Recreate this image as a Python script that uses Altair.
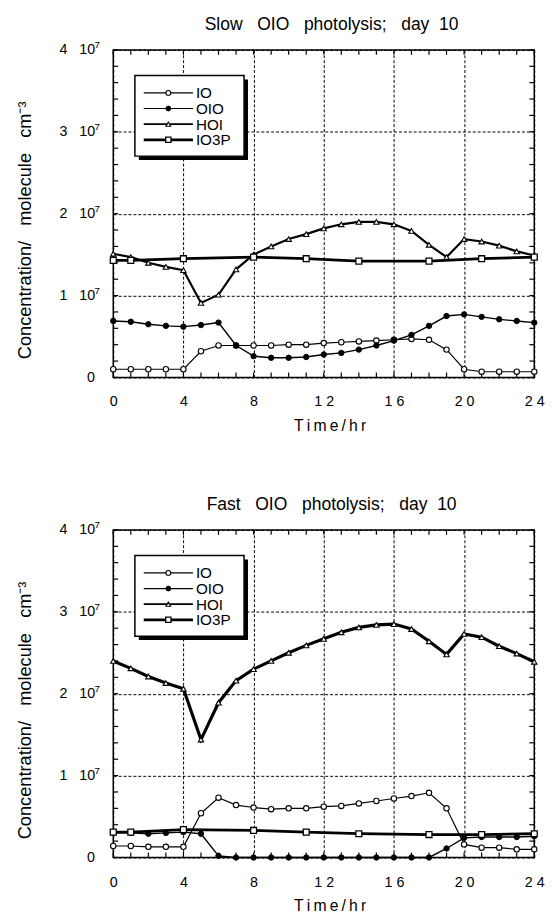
import altair as alt
import pandas as pd

# ---------------- data (concentrations in units of 1e7 molecule cm^-3) -------------
HOURS = list(range(25))
IO3P_HOURS = [0, 1, 4, 8, 11, 14, 18, 21, 24]

SLOW_IO = [0.10, 0.10, 0.10, 0.10, 0.10, 0.32, 0.39, 0.39, 0.39, 0.39, 0.40, 0.40, 0.42,
           0.43, 0.44, 0.45, 0.46, 0.47, 0.46, 0.34, 0.10, 0.07, 0.07, 0.07, 0.07]
SLOW_OIO = [0.69, 0.68, 0.65, 0.63, 0.62, 0.64, 0.67, 0.39, 0.26, 0.24, 0.24, 0.25, 0.28,
            0.30, 0.34, 0.39, 0.45, 0.52, 0.63, 0.75, 0.77, 0.74, 0.71, 0.69, 0.67]
SLOW_HOI = [1.51, 1.47, 1.40, 1.35, 1.31, 0.91, 1.01, 1.32, 1.50, 1.60, 1.69, 1.75, 1.82,
            1.87, 1.90, 1.90, 1.87, 1.79, 1.62, 1.47, 1.69, 1.66, 1.61, 1.54, 1.49]
SLOW_IO3P = [1.43, 1.43, 1.45, 1.47, 1.45, 1.42, 1.42, 1.45, 1.47]

FAST_IO = [0.14, 0.14, 0.13, 0.13, 0.13, 0.54, 0.73, 0.64, 0.61, 0.59, 0.60, 0.60, 0.62,
           0.63, 0.66, 0.69, 0.72, 0.75, 0.79, 0.60, 0.16, 0.12, 0.12, 0.10, 0.10]
FAST_OIO = [0.30, 0.30, 0.29, 0.30, 0.31, 0.29, 0.02, 0.00, 0.00, 0.00, 0.00, 0.00, 0.00,
            0.00, 0.00, 0.00, 0.00, 0.00, 0.00, 0.11, 0.24, 0.25, 0.25, 0.25, 0.26]
FAST_HOI = [2.40, 2.31, 2.21, 2.13, 2.06, 1.44, 1.89, 2.16, 2.30, 2.40, 2.50, 2.59, 2.67,
            2.75, 2.81, 2.84, 2.85, 2.79, 2.64, 2.48, 2.73, 2.69, 2.58, 2.49, 2.39]
FAST_IO3P = [0.31, 0.31, 0.34, 0.33, 0.31, 0.29, 0.28, 0.28, 0.29]

SERIES = ["IO", "OIO", "HOI", "IO3P"]
X_LABEL_VALUES = [0, 4, 8, 12, 16, 20, 24]
Y_LABEL_VALUES = [0, 1, 2, 3, 4]
Y_EXP_VALUES = [1, 2, 3, 4]
MINOR_X = [0, 1, 2, 3, 4, 5, 6, 7, 8, 9, 10, 11, 12, 13, 14, 15, 16, 17, 18, 19, 20,
           21, 22, 23, 24]
MINOR_Y = [0.0, 0.2, 0.4, 0.6, 0.8, 1.0, 1.2, 1.4, 1.6, 1.8, 2.0, 2.2, 2.4, 2.6, 2.8,
           3.0, 3.2, 3.4, 3.6, 3.8, 4.0]

# ---------------- styling ----------------
FONT = "Liberation Sans"
W, H = 428, 333
NB = "\u00a0"
TH = "\u2009"

STYLE = {
    "IO":   dict(shape="circle", fill="white", size=30, pstroke=1.1),
    "OIO":  dict(shape="circle", fill="black", size=30, pstroke=1.0),
    "HOI":  dict(shape="triangle-up", fill="white", size=30, pstroke=1.1),
    "IO3P": dict(shape="square", fill="white", size=36, pstroke=1.3),
}


def xenc(field):
    return alt.X(
        field, type="quantitative",
        scale=alt.Scale(domain=[0, 24], nice=False, zero=False),
        axis=alt.Axis(
            values=X_LABEL_VALUES, grid=True, gridColor="black", gridDash=[3, 2],
            gridWidth=1, gridOpacity=1, ticks=False, domain=False,
            labelFont=FONT, labelFontSize=14.5, labelColor="black", labelPadding=18,
            labelFlush=False,
            labelExpr="length(datum.label) > 1 ? substring(datum.label, 0, 1) + '" + NB +
                      "' + substring(datum.label, 1) : datum.label",
            title=TH.join(list("Time/hr")), titleFont=FONT, titleFontSize=16,
            titleFontWeight="normal", titleColor="black", titlePadding=9, titleX=220,
        ),
    )


def yenc(field):
    return alt.Y(
        field, type="quantitative",
        scale=alt.Scale(domain=[0, 4], nice=False, zero=True),
        axis=alt.Axis(
            values=Y_LABEL_VALUES, grid=True, gridColor="black", gridDash=[3, 2],
            gridWidth=1, gridOpacity=1, ticks=False, domain=False,
            labelFont=FONT, labelFontSize=14.5, labelColor="black", labelPadding=19,
            labelFlush=False,
            labelExpr="datum.value == 0 ? '0' : datum.value + '" + NB * 3 + "10'",
            title="Concentration/" + NB * 3 + "molecule" + NB * 3 + "cm\u207b\u00b3",
            titleFont=FONT, titleFontSize=18.5, titleFontWeight="normal", titleColor="black",
            titleAngle=270, titleX=-90, titleY=183, titleAlign="center",
            titleBaseline="middle",
        ),
    )


def panel(title, io, oio, hoi, io3p, hoi_width, io3p_width):
    layers = []
    # inward minor ticks
    tx = pd.DataFrame({"h": MINOR_X})
    ty = pd.DataFrame({"c": MINOR_Y})
    layers.append(alt.Chart(tx).mark_rule(color="black", strokeWidth=1.2).encode(
        x=xenc("h"), y=alt.value(0), y2=alt.value(5)))
    layers.append(alt.Chart(tx).mark_rule(color="black", strokeWidth=1.2).encode(
        x=xenc("h"), y=alt.value(H - 5), y2=alt.value(H)))
    layers.append(alt.Chart(ty).mark_rule(color="black", strokeWidth=1.2).encode(
        y=yenc("c"), x=alt.value(0), x2=alt.value(5)))
    layers.append(alt.Chart(ty).mark_rule(color="black", strokeWidth=1.2).encode(
        y=yenc("c"), x=alt.value(W - 5), x2=alt.value(W)))
    # exponent "7" of the "n 10^7" tick labels
    te = pd.DataFrame({"e": Y_EXP_VALUES})
    layers.append(alt.Chart(te).mark_text(align="left", baseline="middle", dy=-5,
                                          font=FONT, fontSize=10, color="black").encode(
        y=yenc("e"), x=alt.value(-19), text=alt.value("7")))

    widths = {"IO": 1.2, "OIO": 1.4, "HOI": hoi_width, "IO3P": io3p_width}
    values = {"IO": (HOURS, io), "OIO": (HOURS, oio), "HOI": (HOURS, hoi),
              "IO3P": (IO3P_HOURS, io3p)}
    lines, points = [], []
    for name in SERIES:
        xs, ys = values[name]
        df = pd.DataFrame({"hour": xs, "conc": ys})
        base = alt.Chart(df).encode(x=xenc("hour"), y=yenc("conc"))
        lines.append(base.mark_line(color="black", strokeWidth=widths[name]))
        st = STYLE[name]
        points.append(base.mark_point(shape=st["shape"], filled=True, fill=st["fill"],
                                      stroke="black", strokeWidth=st["pstroke"],
                                      size=st["size"], opacity=1))
    layers += lines + points

    # legend box with drop shadow
    one = pd.DataFrame({"k": [0]})
    layers.append(alt.Chart(one).mark_rect(fill="black").encode(
        x=alt.value(26), x2=alt.value(137), y=alt.value(30), y2=alt.value(112)))
    layers.append(alt.Chart(one).mark_rect(fill="white", stroke="black", strokeWidth=1.5).encode(
        x=alt.value(22), x2=alt.value(133), y=alt.value(26), y2=alt.value(108)))
    leg_w = {"IO": 1.2, "OIO": 1.2, "HOI": 1.8, "IO3P": 2.8}
    for i, name in enumerate(SERIES):
        ly = 43.7 + 15.9 * i
        d = pd.DataFrame({"name": [name]})
        st = STYLE[name]
        layers.append(alt.Chart(d).mark_rule(color="black", strokeWidth=leg_w[name]).encode(
            x=alt.value(31), x2=alt.value(81), y=alt.value(ly)))
        layers.append(alt.Chart(d).mark_point(shape=st["shape"], filled=True, fill=st["fill"],
                                              stroke="black", strokeWidth=st["pstroke"],
                                              size=st["size"] * 0.8, opacity=1).encode(
            x=alt.value(56), y=alt.value(ly)))
        layers.append(alt.Chart(d).mark_text(align="left", baseline="middle", font=FONT,
                                             fontSize=15.5, color="black").encode(
            x=alt.value(84), y=alt.value(ly + 0.5), text="name:N"))

    return alt.layer(*layers).properties(
        width=W, height=H,
        title=alt.TitleParams(title, font=FONT, fontSize=17.8, fontWeight="normal",
                              color="black", anchor="middle", offset=6, dx=8),
    )


top = panel("Slow" + NB * 3 + "OIO" + NB * 3 + "photolysis;" + NB * 3 + "day" + NB * 2 + "10",
            SLOW_IO, SLOW_OIO, SLOW_HOI, SLOW_IO3P, 2.2, 2.8)
bottom = panel("Fast" + NB * 3 + "OIO" + NB * 3 + "photolysis;" + NB * 3 + "day" + NB * 2 + "10",
               FAST_IO, FAST_OIO, FAST_HOI, FAST_IO3P, 3.2, 2.8)

chart = alt.vconcat(top, bottom, spacing=62).properties(
    padding={"left": 7, "top": 0, "right": 5, "bottom": 0},
    background="white",
).configure_view(stroke="black", strokeWidth=1.5)

chart.save("out.html", embed_options={"renderer": "svg", "actions": False})
